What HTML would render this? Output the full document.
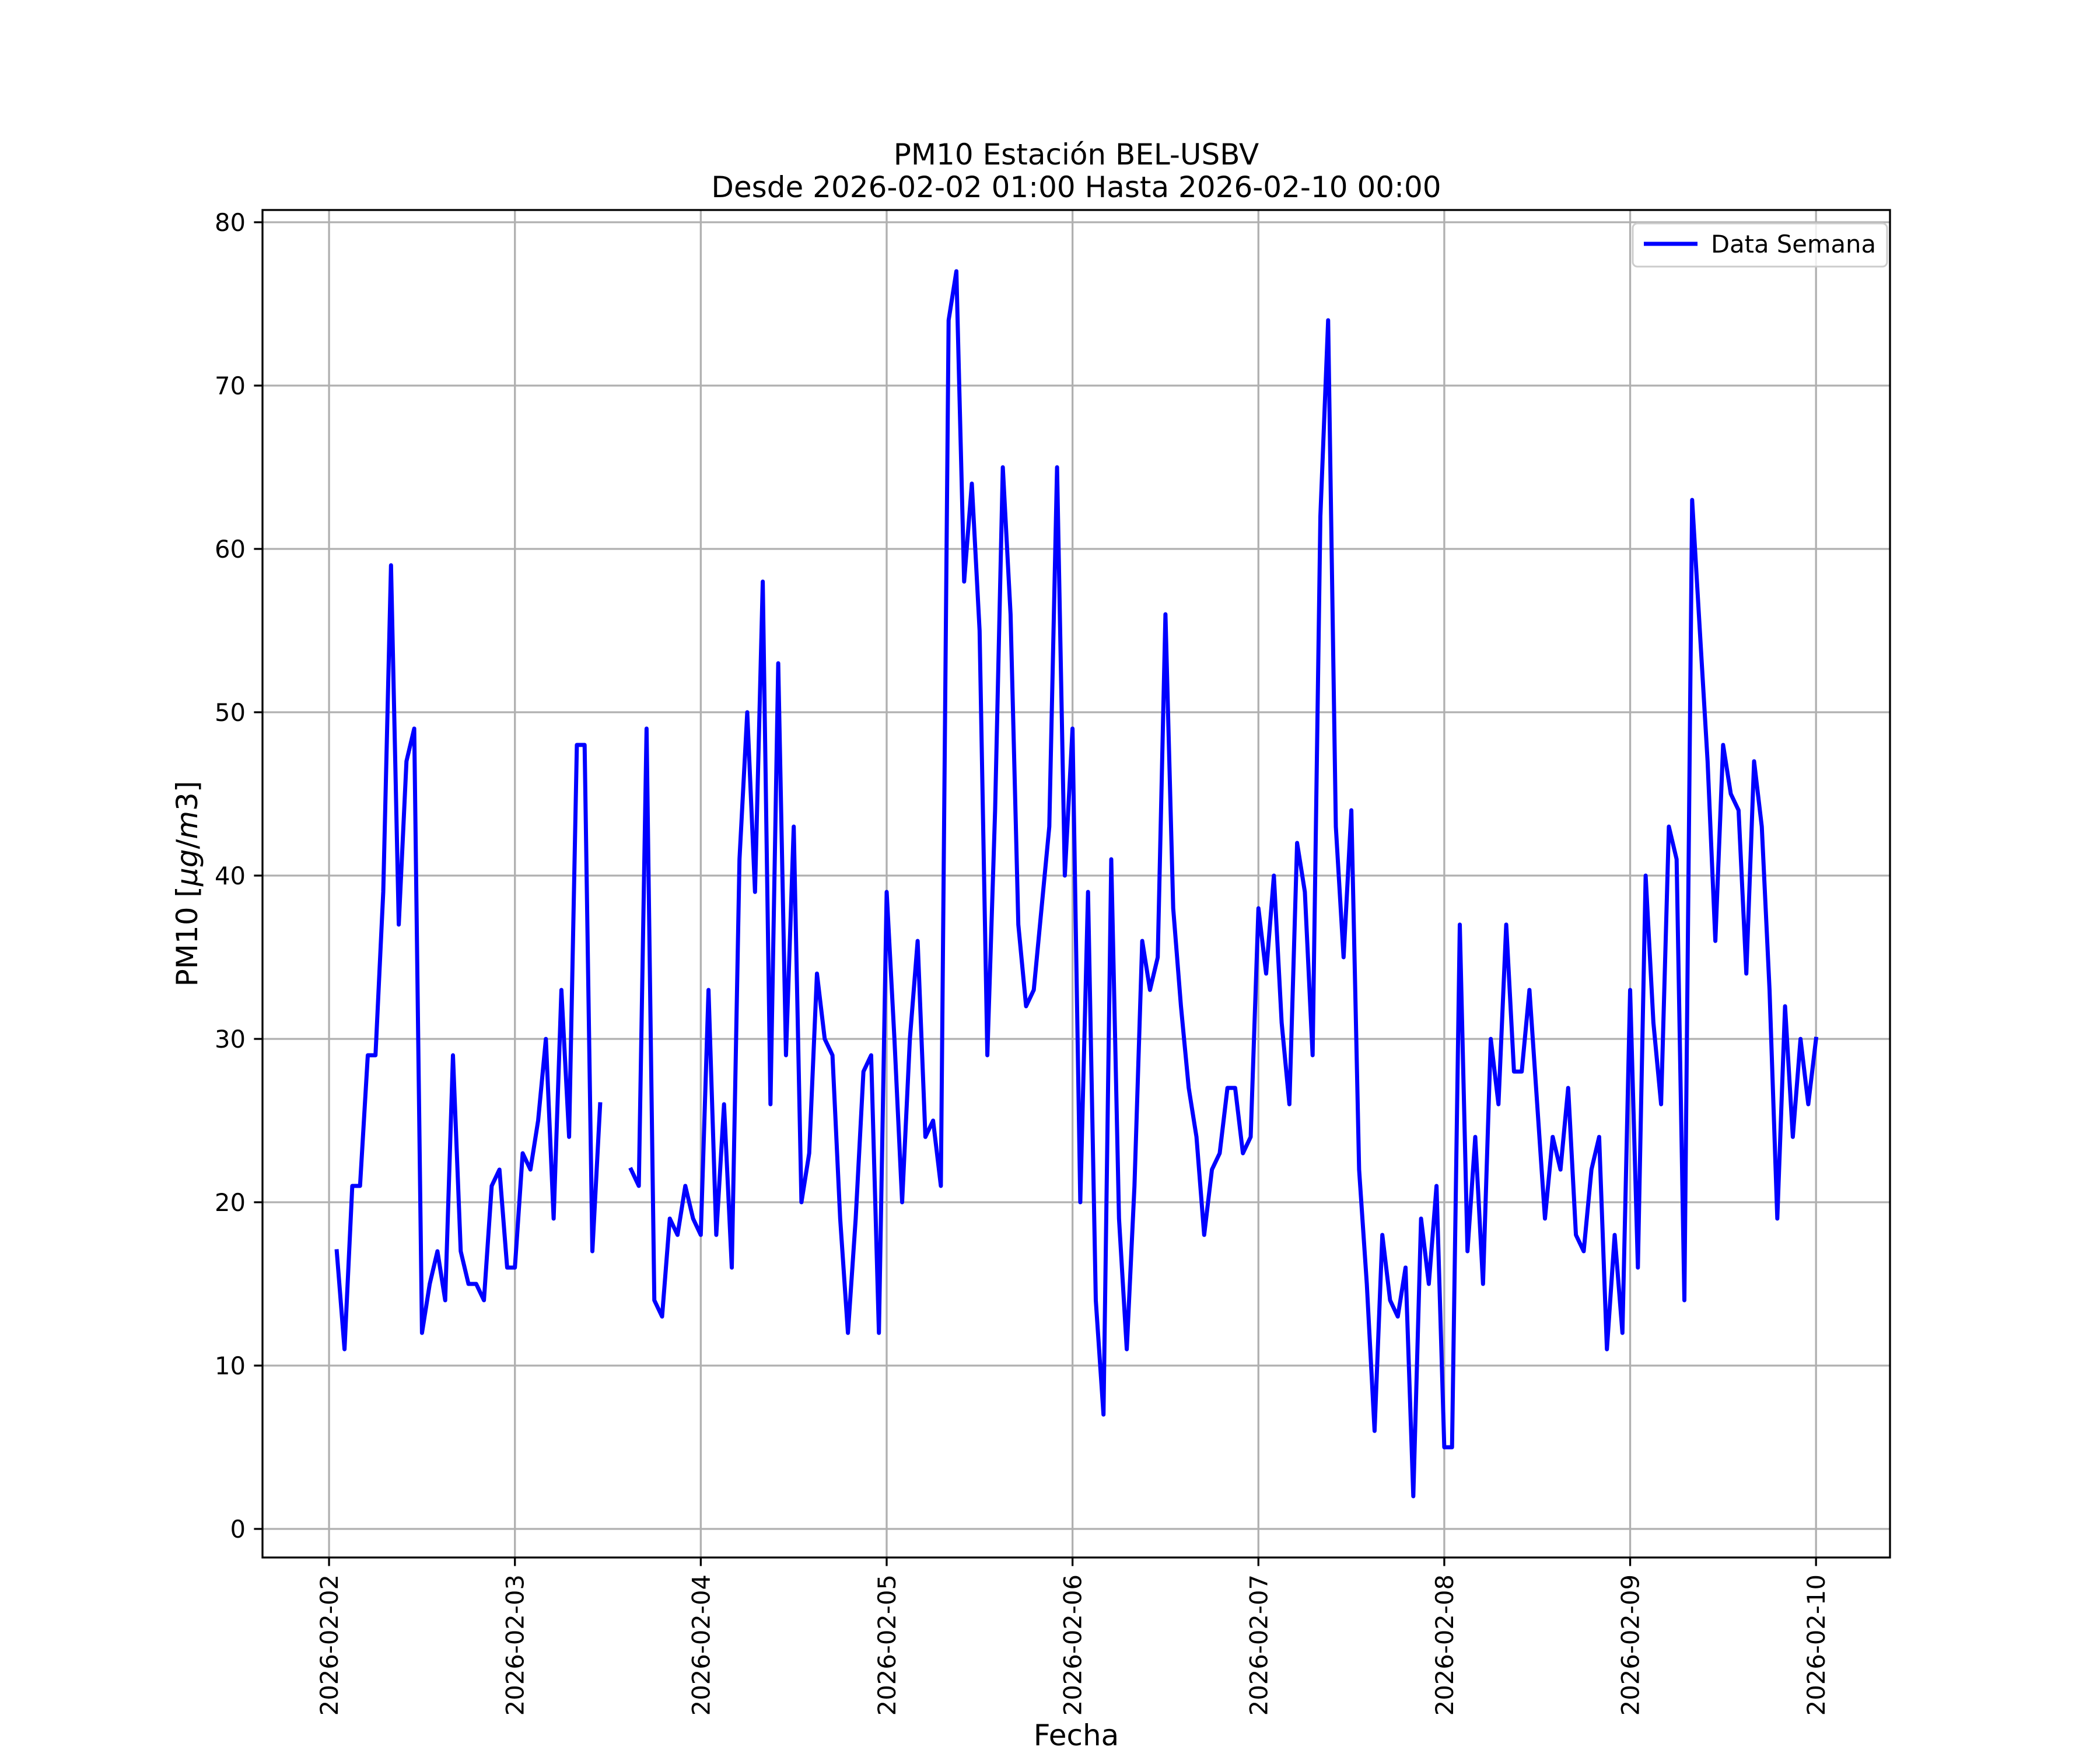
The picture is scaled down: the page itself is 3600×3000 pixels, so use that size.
<!DOCTYPE html>
<html><head><meta charset="utf-8"><style>
html,body{margin:0;padding:0;background:#fff;}
svg{display:block;font-family:"DejaVu Sans","Liberation Sans",sans-serif;}
</style></head><body>
<svg id="chart" width="3600" height="3000" viewBox="0 0 3600 3000" xmlns="http://www.w3.org/2000/svg">
<rect width="3600" height="3000" fill="#fff"/>
<text x="1845" y="282" font-size="50" text-anchor="middle">PM10 Estación BEL-USBV</text>
<text x="1845" y="338" font-size="50" text-anchor="middle">Desde 2026-02-02 01:00 Hasta 2026-02-10 00:00</text>
<g id="grid"></g>
<g id="series"></g>
<rect x="450" y="360" width="2790" height="2310" fill="none" stroke="#000" stroke-width="3.3"/>
<g id="ticks"></g>
<text x="0" y="0" font-size="50" text-anchor="middle" transform="translate(338,1515) rotate(-90)">PM10 [<tspan font-style="italic">μg</tspan>/<tspan font-style="italic">m</tspan>3]</text>
<text x="1845" y="2992" font-size="50" text-anchor="middle">Fecha</text>
<g>
<rect x="2799" y="383" width="436" height="74" rx="8" fill="#fff" fill-opacity="0.8" stroke="#ccc" stroke-width="3"/>
<line x1="2818" y1="418" x2="2910" y2="418" stroke="#0000ff" stroke-width="7"/>
<text x="2933" y="433" font-size="41.7">Data Semana</text>
</g>
</svg>
<script>
// hourly values starting 2026-02-02 01:00 (hour index 1..192); null = gap
const pm10Values = [17,11,21,21,29,29,39,59,37,47,49,12,15,17,14,29,17,15,15,14,21,22,16,16,
23,22,25,30,19,33,24,48,48,17,26,null,null,null,22,21,49,14,13,19,18,21,19,18,
33,18,26,16,41,50,39,58,26,53,29,43,20,23,34,30,29,19,12,19,28,29,12,39,
30,20,30,36,24,25,21,74,77,58,64,55,29,44,65,56,37,32,33,38,43,65,40,49,
20,39,14,7,41,19,11,21,36,33,35,56,38,32,27,24,18,22,23,27,27,23,24,38,
34,40,31,26,42,39,29,62,74,43,35,44,22,15,6,18,14,13,16,2,19,15,21,5,
5,37,17,24,15,30,26,37,28,28,33,26,19,24,22,27,18,17,22,24,11,18,12,33,
16,40,31,26,43,41,14,63,55,47,36,48,45,44,34,47,43,33,19,32,24,30,26,30];
const yTickValues = [0,10,20,30,40,50,60,70,80];
const xTickLabels = ["2026-02-02","2026-02-03","2026-02-04","2026-02-05","2026-02-06","2026-02-07","2026-02-08","2026-02-09","2026-02-10"];

const NS = "http://www.w3.org/2000/svg";
const X0 = 450, X1 = 3240, Y0 = 360, Y1 = 2670;
const xMin = -0.358, xMax = 8.398, yMin = -1.75, yMax = 80.75;
function xScale(d){ return X0 + (d - xMin) / (xMax - xMin) * (X1 - X0); }
function yScale(v){ return Y1 - (v - yMin) / (yMax - yMin) * (Y1 - Y0); }
function mk(tag, attrs){ const e = document.createElementNS(NS, tag); for (const k in attrs) e.setAttribute(k, attrs[k]); return e; }

const grid = document.getElementById('grid');
const ticks = document.getElementById('ticks');
yTickValues.forEach(v => {
  const y = yScale(v);
  const g = mk('line', {x1:X0, x2:X1, y1:y, y2:y, stroke:'#b0b0b0', 'stroke-width':3.3});
  
  
  grid.appendChild(g);
  const t = mk('line', {x1:X0-14.6, x2:X0, y1:y, y2:y, stroke:'#000', 'stroke-width':3.3});
  
  
  ticks.appendChild(t);
  const l = mk('text', {x:X0-29, y:y+15, 'font-size':41.7, 'text-anchor':'end'});
  l.textContent = String(v);
  
  
  ticks.appendChild(l);
});
xTickLabels.forEach((lab, i) => {
  const x = xScale(i);
  const g = mk('line', {x1:x, x2:x, y1:Y0, y2:Y1, stroke:'#b0b0b0', 'stroke-width':3.3});
  
  
  grid.appendChild(g);
  const t = mk('line', {x1:x, x2:x, y1:Y1, y2:Y1+14.6, stroke:'#000', 'stroke-width':3.3});
  
  
  ticks.appendChild(t);
  const l = mk('text', {x:0, y:0, 'font-size':41.7, 'text-anchor':'end', transform:'translate(' + (x+15) + ',' + (Y1+29) + ') rotate(-90)'});
  l.textContent = lab;
  
  
  ticks.appendChild(l);
});

const series = document.getElementById('series');
let segs = [], cur = [];
pm10Values.forEach((v, i) => {
  if (v === null) { if (cur.length) segs.push(cur); cur = []; return; }
  const d = (i + 1) / 24;
  cur.push(xScale(d).toFixed(1) + ',' + yScale(v).toFixed(1));
});
if (cur.length) segs.push(cur);
segs.forEach(s => {
  const p = mk('polyline', {points:s.join(' '), fill:'none', stroke:'#0000ff', 'stroke-width':7, 'stroke-linejoin':'round', 'stroke-linecap':'square'});
  
  
  series.appendChild(p);
});
</script>
</body></html>
